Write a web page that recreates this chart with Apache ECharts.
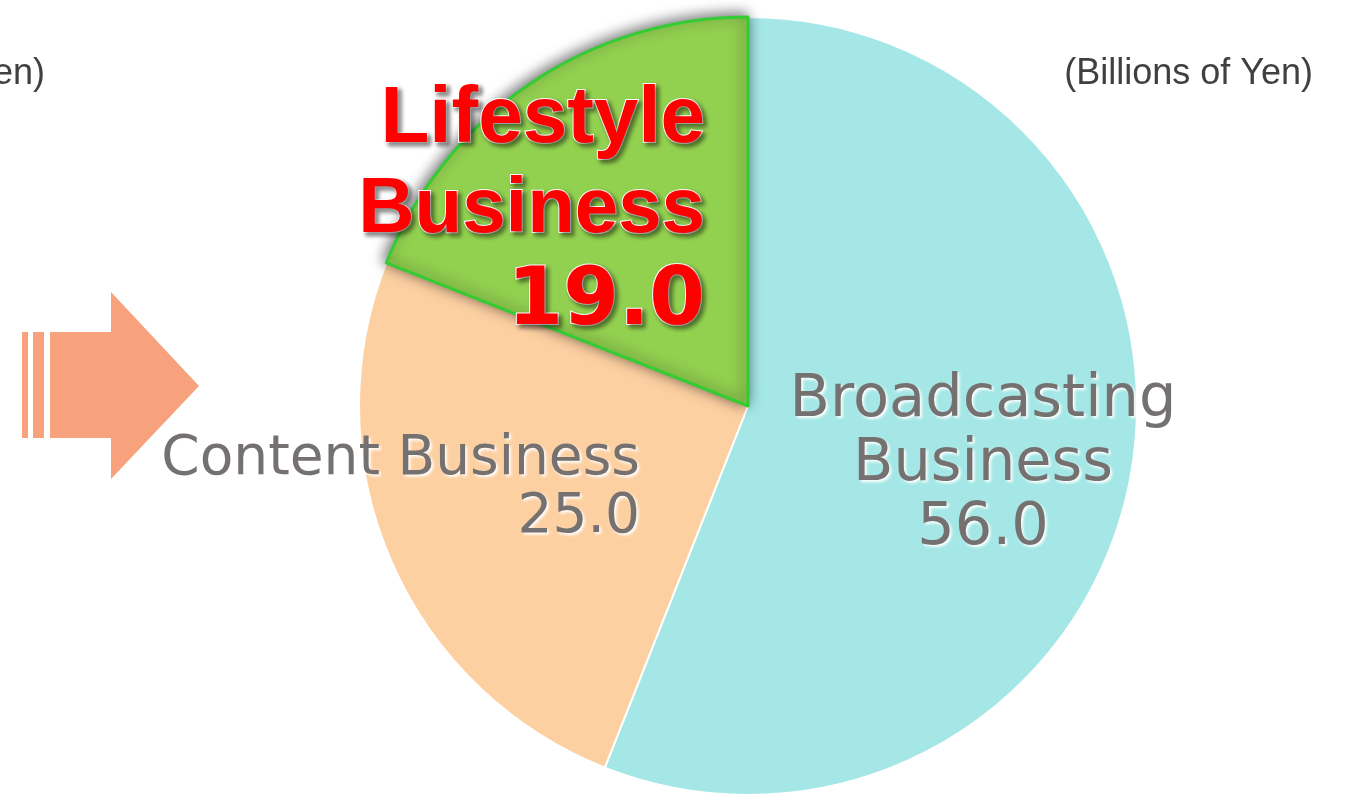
<!DOCTYPE html>
<html>
<head>
<meta charset="utf-8">
<script src="https://cdn.jsdelivr.net/npm/echarts@6/dist/echarts.min.js"></script>
<style>
html, body { margin: 0; padding: 0; background: #fff; }
#main { width: 1345px; height: 800px; }
</style>
</head>
<body>
<div id="main"></div>
<script>
// 数据
var names = ['Broadcasting\nBusiness', 'Content Business', 'Lifestyle\nBusiness'];
var values = [56.0, 25.0, 19.0];
var colors = ['#a4e7e6', '#fdd0a2', '#92d050'];
var unitText = '(Billions of Yen)';

var chart = echarts.init(document.getElementById('main'));

// 标签位置
var labelPos = [
    { x: 983, y: 465, align: 'center' },
    { x: 640, y: 489, align: 'right' },
    { x: 705, y: 212, align: 'right' }
];

function grayLabel(size, lh) {
    return {
        color: '#767171',
        fontFamily: 'DejaVu Sans',
        fontSize: size,
        lineHeight: lh,
        textShadowColor: '#ffffff',
        textShadowBlur: 3,
        textShadowOffsetX: 2,
        textShadowOffsetY: 2
    };
}

var redText = {
    color: '#ff0000', fontWeight: 'bold',
    textBorderColor: '#ffffff', textBorderWidth: 2,
    textShadowColor: 'rgba(0,0,0,0.45)', textShadowBlur: 4,
    textShadowOffsetX: 3, textShadowOffsetY: 3
};

var seriesData = [];
for (var i = 0; i < values.length; i++) {
    var item = {
        name: names[i],
        value: values[i],
        itemStyle: { color: colors[i], borderColor: '#ffffff', borderWidth: 2 }
    };
    if (i < 2) {
        item.label = Object.assign({
            formatter: function (p) { return p.name + '\n' + p.value.toFixed(1); }
        }, i === 0 ? grayLabel(59, 64) : grayLabel(55, 58));
    } else {
        item.itemStyle = {
            color: colors[i],
            borderColor: '#33cc33',
            borderWidth: 3,
            shadowColor: 'rgba(0,0,0,0.55)',
            shadowBlur: 14,
            shadowOffsetX: -2,
            shadowOffsetY: -2
        };
        item.label = {
            formatter: function (p) { return '{a|Lifestyle}\n{c|Business}\n{b|' + p.value.toFixed(1) + '}'; },
            rich: {
                a: Object.assign({ fontFamily: 'Liberation Sans', fontSize: 80, lineHeight: 91 }, redText),
                c: Object.assign({ fontFamily: 'Liberation Sans', fontSize: 78, lineHeight: 91 }, redText),
                b: Object.assign({ fontFamily: 'DejaVu Sans', fontSize: 80, lineHeight: 94 }, redText)
            }
        };
    }
    seriesData.push(item);
}

var option = {
    animation: false,
    graphic: [
        // 左侧箭头
        { type: 'rect', shape: { x: 22, y: 332, width: 6, height: 106 }, style: { fill: '#f7a27c' } },
        { type: 'rect', shape: { x: 33, y: 332, width: 11, height: 106 }, style: { fill: '#f7a27c' } },
        {
            type: 'polygon',
            shape: { points: [[50, 332], [111, 332], [111, 292], [199, 386], [111, 479], [111, 438], [50, 438]] },
            style: { fill: '#f7a27c' }
        },
        {
            type: 'text', right: 1300, top: 56,
            style: { text: unitText, font: '36px "Liberation Sans"', fill: '#404040' }
        },
        {
            type: 'text', right: 32, top: 56,
            style: { text: unitText, font: '36px "Liberation Sans"', fill: '#404040' }
        }
    ],
    series: [{
        type: 'pie',
        center: [748, 406],
        radius: [0, 389],
        startAngle: 90,
        clockwise: true,
        label: { show: true, position: 'inside' },
        labelLine: { show: false },
        labelLayout: function (params) {
            var p = labelPos[params.dataIndex];
            return { x: p.x, y: p.y, align: p.align, verticalAlign: 'middle' };
        },
        emphasis: { disabled: true },
        data: seriesData
    }]
};

chart.setOption(option);
</script>
</body>
</html>
